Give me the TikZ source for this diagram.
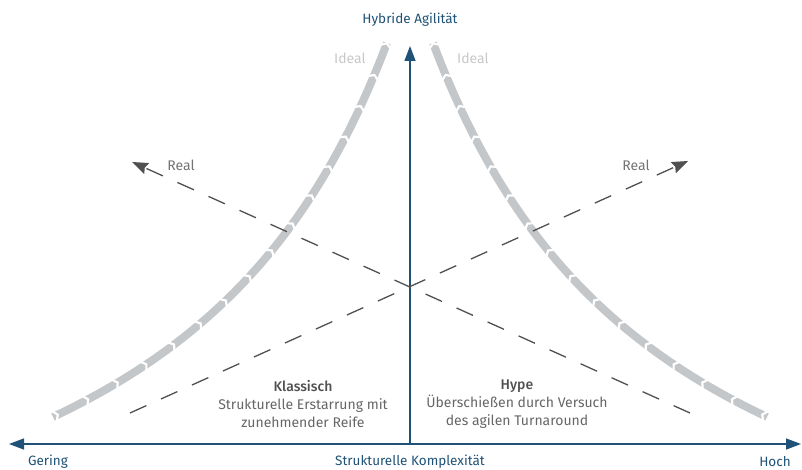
\documentclass[tikz,border=0pt]{standalone}
\usepackage{fontspec}
\setmainfont{Fira Sans}
\usetikzlibrary{arrows.meta,decorations.markings}

\definecolor{axisblue}{HTML}{1F5276}
\definecolor{idealgray}{HTML}{C4C7C9}
\definecolor{idealtext}{HTML}{C8C8C8}
\definecolor{realgray}{HTML}{505050}
\definecolor{bodytext}{HTML}{666666}

\tikzset{
  axisline/.style={draw=axisblue, line width=1.4pt, -{Triangle[length=15pt,width=11pt]}},
  axislabel/.style={text=axisblue, font=\fontsize{13.5}{16}\selectfont, inner sep=0pt},
  idealcurve/.style={draw=idealgray, line width=8pt, line join=round,
    postaction={decorate, decoration={markings,
      mark=between positions 0 and 1 step 34pt with {
        \fill[white] (0pt,-6pt) -- (4pt,0pt) -- (0pt,6pt) -- (2.6pt,6pt) -- (6.6pt,0pt) -- (2.6pt,-6pt) -- cycle;}}}},
  idealtag/.style={text=idealtext, font=\fontsize{14}{16}\selectfont, inner sep=0pt},
  realline/.style={draw=realgray, line width=1.3pt, dash pattern=on 18pt off 16pt,
    -{Stealth[length=16pt,width=12pt,inset=2pt]}},
  realtag/.style={text=realgray!80, font=\fontsize{14}{16}\selectfont, inner sep=0pt},
  quadtext/.style={text=bodytext, align=center, font=\fontsize{14}{18}\selectfont, inner sep=0pt},
}

\begin{document}
\begin{tikzpicture}[x=1pt,y=-1pt]
\useasboundingbox (0,0) rectangle (802,470);

% the two ideal curves (hyperbolic arcs), segmented into chevrons pointing upward
\draw[idealcurve] plot[domain=53:387, samples=70] (\x, {690 - 1578/(6.309 - \x/100)});
\draw[idealcurve] plot[domain=767:433, samples=70] (\x, {690 - 1578/(\x/100 - 1.891)});

% axes
\coordinate (origin) at (410,444);
\coordinate (ytip) at (410,46);
\coordinate (xleft) at (9,444);
\coordinate (xright) at (801,444);
\draw[axisline] (origin) -- (ytip);
\draw[axisline, {Triangle[length=15pt,width=11pt]}-{Triangle[length=15pt,width=11pt]}] (xleft) -- (xright);

% real developments
\coordinate (realAstart) at (690,413);
\coordinate (realAend) at (132,162);
\coordinate (realBstart) at (130,413);
\coordinate (realBend) at (688,161);
\draw[realline] (realAstart) -- (realAend);
\draw[realline] (realBstart) -- (realBend);

% labels
\node[axislabel] (ylabel) at (410,20) {Hybride Agilität};
\node[axislabel] (xlabel) at (410,462) {Strukturelle Komplexität};
\node[axislabel] (low) at (48,462) {Gering};
\node[axislabel] (high) at (775,462) {Hoch};

\node[idealtag] (idealL) at (350,58) {Ideal};
\node[idealtag] (idealR) at (473,58) {Ideal};
\node[realtag] (realL) at (181,165) {Real};
\node[realtag] (realR) at (636,165) {Real};

\node[quadtext, anchor=north] (klassisch) at (303,380)
  {\textcolor{realgray}{\fontspec{Fira Sans Medium}Klassisch}\\Strukturelle Erstarrung mit\\zunehmender Reife};
\node[quadtext, anchor=north] (hype) at (517,380)
  {\textcolor{realgray}{\fontspec{Fira Sans Medium}Hype}\\Überschießen durch Versuch\\des agilen Turnaround};
\end{tikzpicture}
\end{document}
